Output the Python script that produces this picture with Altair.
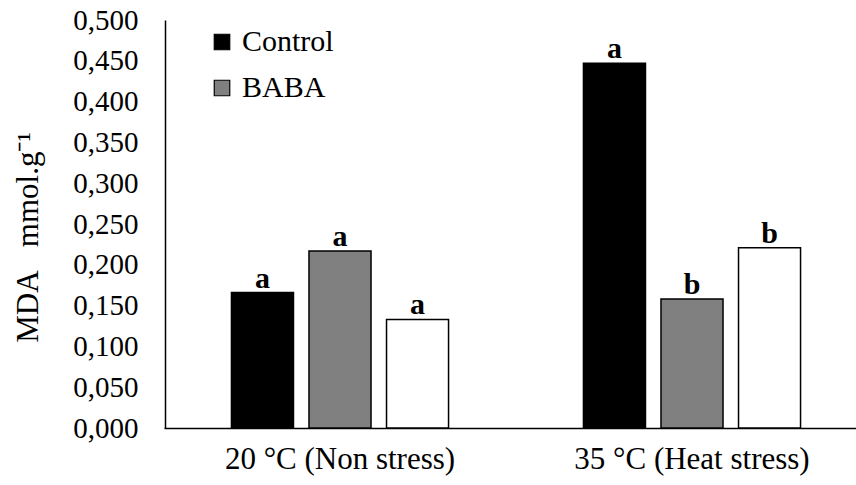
import altair as alt
import pandas as pd

groups = ["20 °C (Non stress)", "35 °C (Heat stress)"]
series = ["Control", "BABA", "Treatment 3"]
control = [0.166, 0.447]
baba = [0.217, 0.158]
third = [0.133, 0.221]
letters_control = ["a", "a"]
letters_baba = ["a", "b"]
letters_third = ["a", "b"]
y_ticks = [0.0, 0.05, 0.1, 0.15, 0.2, 0.25, 0.3, 0.35, 0.4, 0.45, 0.5]

rows = []
for vals, lets, name in [(control, letters_control, series[0]),
                         (baba, letters_baba, series[1]),
                         (third, letters_third, series[2])]:
    for g, v, l in zip(groups, vals, lets):
        rows.append({"group": g, "series": name, "value": v, "letter": l})
df = pd.DataFrame(rows)

FONT = "Liberation Serif"

base = alt.Chart(df).encode(
    x=alt.X("group:N", sort=groups,
            scale=alt.Scale(range=[-1, 703], paddingInner=0, paddingOuter=0),
            axis=alt.Axis(title=None, labelAngle=0, ticks=False, labelFontSize=31,
                          labelFont=FONT, labelColor="black", labelPadding=16,
                          labelLimit=500, domainColor="black", domainWidth=1.5)),
    xOffset=alt.XOffset("series:N", sort=series,
                        scale=alt.Scale(paddingInner=0.2, paddingOuter=0.87)),
)

bars = base.mark_bar(stroke="black", strokeWidth=1.5).encode(
    y=alt.Y("value:Q",
            scale=alt.Scale(domain=[0, 0.5], nice=False),
            axis=alt.Axis(values=y_ticks, grid=False, ticks=False,
                          labelExpr="replace(format(datum.value, '.3f'), '.', ',')",
                          labelFont=FONT, labelFontSize=29, labelColor="black",
                          labelPadding=27, domainColor="black", domainWidth=1.5,
                          title="MDA\u00a0\u00a0\u00a0mmol.g⁻¹", titleFont=FONT, titleFontSize=31,
                          titleFontWeight="normal", titleColor="black",
                          titleAngle=-90, titleBaseline="top", titleAlign="center",
                          titleX=-152, titleY=217)),
    color=alt.Color("series:N",
                    scale=alt.Scale(domain=series, range=["#000000", "#808080", "#ffffff"]),
                    legend=alt.Legend(values=["Control", "BABA"], title=None,
                                      orient="none", legendX=42, legendY=7,
                                      symbolType="square", symbolSize=240,
                                      symbolStrokeColor="black", symbolStrokeWidth=1.2,
                                      symbolOpacity=1, labelFont=FONT,
                                      labelFontSize=30, labelColor="black",
                                      labelOffset=5, rowPadding=16, labelLimit=300)),
)

labels = base.mark_text(font=FONT, fontWeight="bold", fontSize=30, baseline="alphabetic",
                        dy=-5, color="black").encode(
    y=alt.Y("value:Q"),
    text="letter:N",
)

chart = alt.layer(bars, labels).properties(
    width=691, height=408,
    autosize=alt.AutoSizeParams(type="none"),
    padding={"left": 165, "top": 20, "right": 0, "bottom": 57},
).configure(font=FONT).configure_view(stroke=None)

chart.save("out.html", embed_options={"renderer": "svg", "actions": False})
